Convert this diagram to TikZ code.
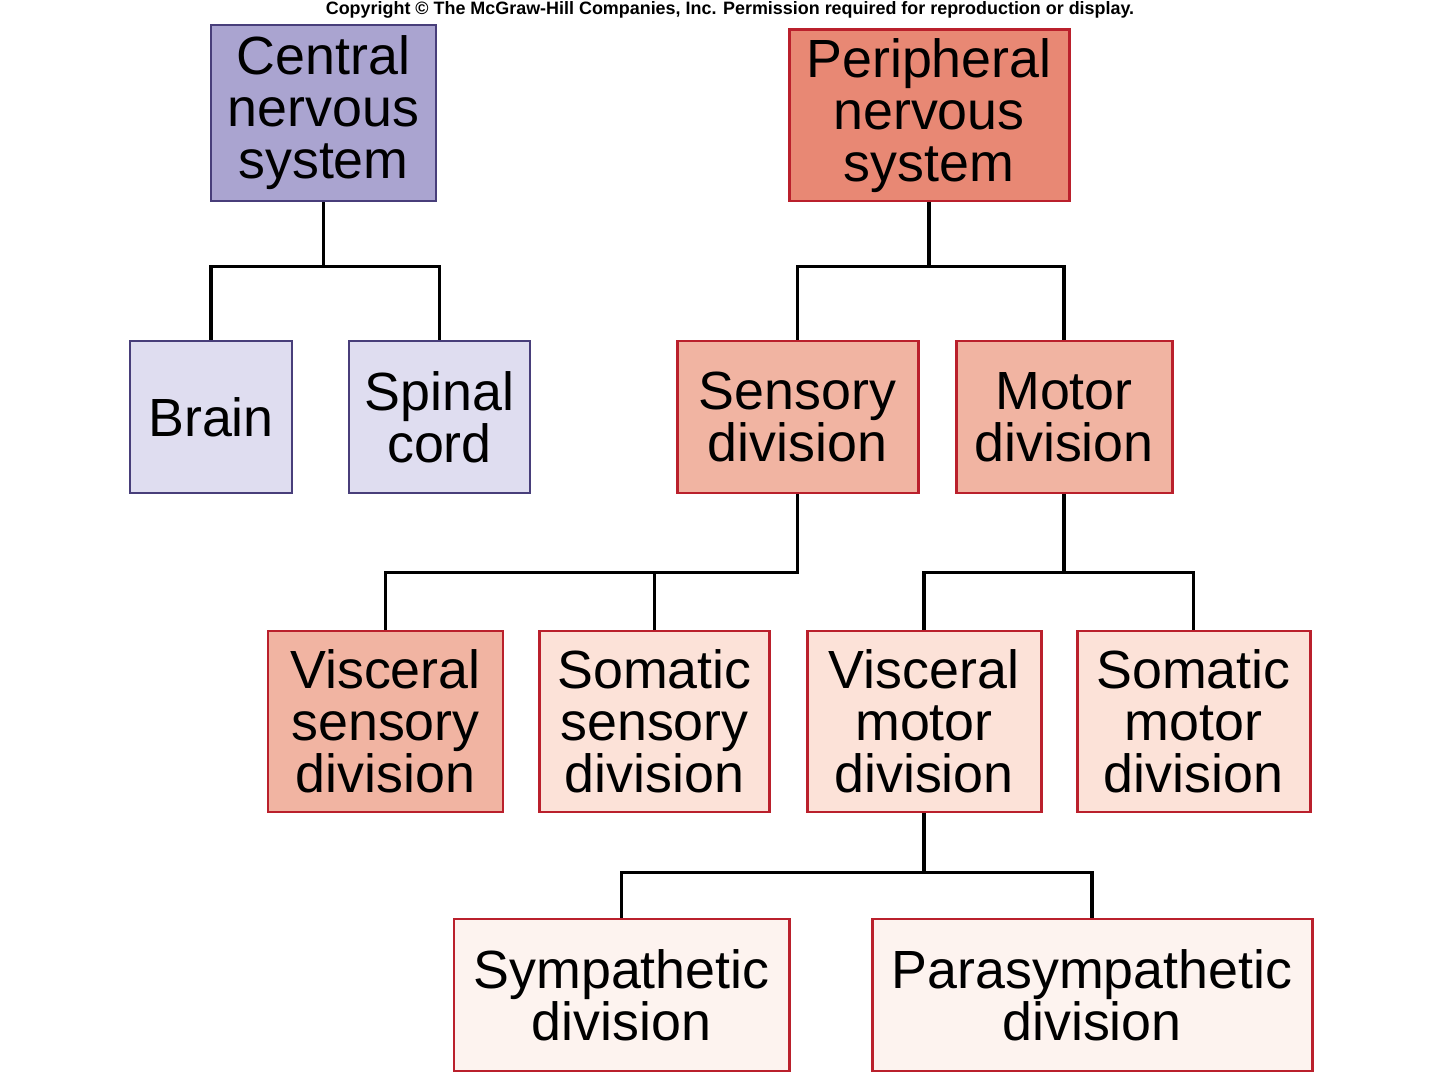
\documentclass[tikz,border=0pt]{standalone}
\usepackage{fontspec}
\setmainfont{Liberation Sans}
\definecolor{cnsfill}{RGB}{170,164,208}
\definecolor{cnsline}{RGB}{72,62,122}
\definecolor{cnslight}{RGB}{223,221,240}
\definecolor{pnsfill}{RGB}{232,136,116}
\definecolor{pnsline}{RGB}{186,32,44}
\definecolor{pnsmid}{RGB}{241,180,162}
\definecolor{pnslight}{RGB}{252,226,216}
\definecolor{pnspale}{RGB}{253,243,239}
\begin{document}
\begin{tikzpicture}[
	box/.style={draw, line width=0.85pt, align=center, inner sep=0pt,
		font=\fontsize{15.3}{14.8}\selectfont},
	cnsbox/.style={box, draw=cnsline},
	pnsbox/.style={box, draw=pnsline},
	link/.style={line width=1.1pt}]
	\useasboundingbox (0,0) rectangle (14.4,-10.8);
	\node at (7.30,-0.10) {\fontsize{5.1}{5.5}\selectfont\bfseries Copyright \textcopyright{} The McGraw-Hill Companies, Inc. Permission required for reproduction or display.};
	% central
	\node[cnsbox, fill=cnsfill, minimum width=2.25cm, minimum height=1.76cm] (cns) at (3.235,-1.13) {Central\\nervous\\system};
	\node[cnsbox, fill=cnslight, minimum width=1.62cm, minimum height=1.52cm] (brain) at (2.11,-4.17) {Brain};
	\node[cnsbox, fill=cnslight, minimum width=1.81cm, minimum height=1.52cm] (cord) at (4.395,-4.17) {Spinal\\cord};
	% peripheral
	\node[pnsbox, fill=pnsfill, minimum width=2.80cm, minimum height=1.71cm] (pns) at (9.29,-1.155) {Peripheral\\nervous\\system};
	\node[pnsbox, fill=pnsmid, minimum width=2.41cm, minimum height=1.52cm] (sens) at (7.975,-4.17) {Sensory\\division};
	\node[pnsbox, fill=pnsmid, minimum width=2.16cm, minimum height=1.52cm] (mot) at (10.64,-4.17) {Motor\\division};
	\node[pnsbox, fill=pnsmid, minimum width=2.35cm, minimum height=1.81cm] (vsens) at (3.855,-7.215) {Visceral\\sensory\\division};
	\node[pnsbox, fill=pnslight, minimum width=2.30cm, minimum height=1.81cm] (ssens) at (6.545,-7.215) {Somatic\\sensory\\division};
	\node[pnsbox, fill=pnslight, minimum width=2.34cm, minimum height=1.81cm] (vmot) at (9.24,-7.215) {Visceral\\motor\\division};
	\node[pnsbox, fill=pnslight, minimum width=2.33cm, minimum height=1.81cm] (smot) at (11.935,-7.215) {Somatic\\motor\\division};
	\node[pnsbox, fill=pnspale, minimum width=3.35cm, minimum height=1.52cm] (symp) at (6.215,-9.95) {Sympathetic\\division};
	\node[pnsbox, fill=pnspale, minimum width=4.40cm, minimum height=1.52cm] (para) at (10.92,-9.95) {Parasympathetic\\division};
	% links
	\draw[link] (cns.south) -- ++(0,-0.64) coordinate (c1) (brain.north) |- (c1) -| (cord.north);
	\draw[link] (pns.south) -- ++(0,-0.64) coordinate (p1) (sens.north) |- (p1) -| (mot.north);
	\draw[link] (sens.south) -- ++(0,-0.78) coordinate (s1) -| (vsens.north) (s1 -| ssens.north) -- (ssens.north);
	\draw[link] (mot.south) -- ++(0,-0.78) coordinate (m1) (vmot.north) |- (m1) -| (smot.north);
	\draw[link] (vmot.south) -- ++(0,-0.59) coordinate (v1) (symp.north) |- (v1) -| (para.north);
\end{tikzpicture}
\end{document}
